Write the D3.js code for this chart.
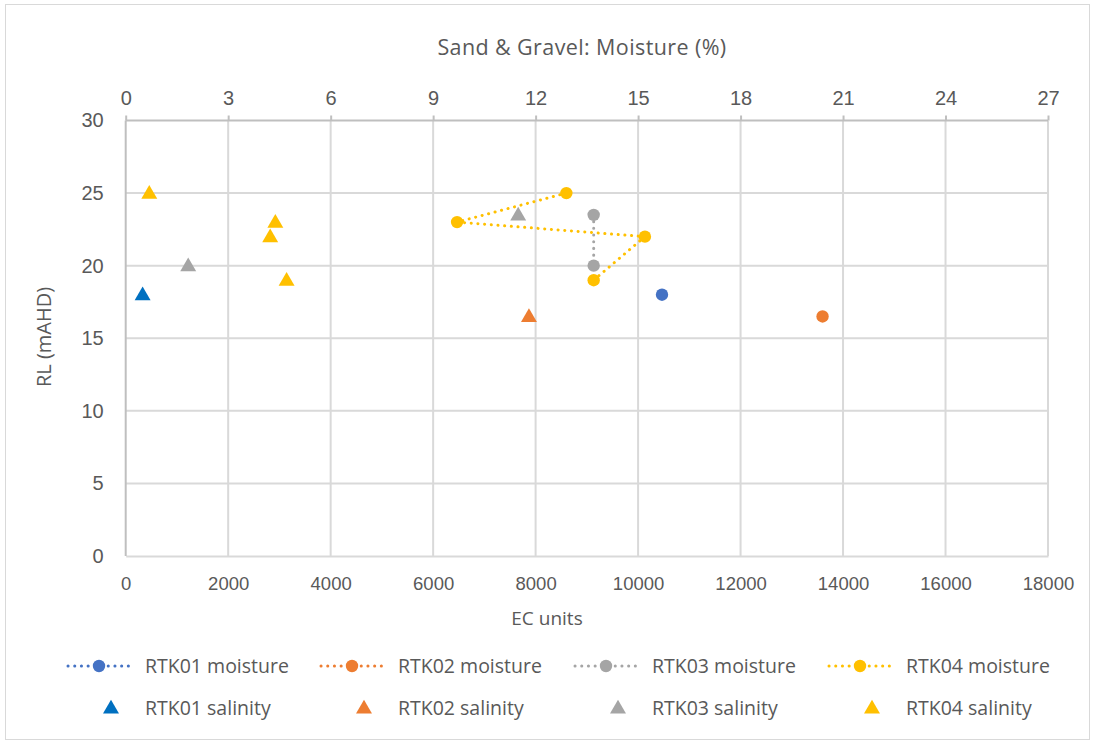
<!DOCTYPE html>
<html>
<head>
<meta charset="utf-8">
<script src="https://cdn.jsdelivr.net/npm/d3@7"></script>
<style>
  html, body { margin: 0; padding: 0; background: #fff; }
  svg { display: block; font-family: "Open Sans", "Liberation Sans", sans-serif; }
</style>
</head>
<body>
<svg id="chart" width="1094" height="744"></svg>
<script>
// Bottom axis: salinity in EC units; top axis: moisture in %; vertical: RL (mAHD)
const ecTicks = [0, 2000, 4000, 6000, 8000, 10000, 12000, 14000, 16000, 18000];
const moistTicks = [0, 3, 6, 9, 12, 15, 18, 21, 24, 27];
const rlTicks = [0, 5, 10, 15, 20, 25, 30];

// Moisture profiles (moisture %, RL)
const rtk01Moisture = [[15.7, 18]];
const rtk02Moisture = [[20.4, 16.5]];
const rtk03Moisture = [[13.7, 23.5], [13.7, 20]];
const rtk04Moisture = [[12.9, 25], [9.7, 23], [15.2, 22], [13.7, 19]];

// Salinity samples (EC units, RL)
const rtk01Salinity = [[330, 18]];
const rtk02Salinity = [[7870, 16.5]];
const rtk03Salinity = [[1220, 20], [7660, 23.5]];
const rtk04Salinity = [[460, 25], [2920, 23], [2820, 22], [3140, 19]];

const seriesNames = ["RTK01", "RTK02", "RTK03", "RTK04"];
const moistColors = ["#4472C4", "#ED7D31", "#A5A5A5", "#FFC000"];
const salColors = ["#0070C0", "#ED7D31", "#A5A5A5", "#FFC000"];

const moistureSeries = [rtk01Moisture, rtk02Moisture, rtk03Moisture, rtk04Moisture];
const salinitySeries = [rtk01Salinity, rtk02Salinity, rtk03Salinity, rtk04Salinity];

const svg = d3.select("#chart");
const textColor = "#595959";
const plot = { left: 125.7, right: 1048, top: 120.5, bottom: 556 };

const xEC = d3.scaleLinear().domain([0, 18000]).range([plot.left, plot.right]);
const xMoist = d3.scaleLinear().domain([0, 27]).range([plot.left, plot.right]);
const y = d3.scaleLinear().domain([0, 30]).range([plot.bottom, plot.top]);

// Chart frame
svg.append("rect")
  .attr("x", 5.5).attr("y", 4.5).attr("width", 1084).attr("height", 735)
  .attr("fill", "#fff").attr("stroke", "#D9D9D9").attr("stroke-width", 1);

// Gridlines
const grid = svg.append("g");
grid.selectAll("line.h").data(rlTicks.filter(d => d > 0 && d < 30)).join("line")
  .attr("x1", plot.left).attr("x2", plot.right)
  .attr("y1", d => y(d)).attr("y2", d => y(d))
  .attr("stroke", "#D9D9D9").attr("stroke-width", 2);
grid.selectAll("line.v").data(ecTicks.filter(d => d > 0)).join("line")
  .attr("x1", d => xEC(d)).attr("x2", d => xEC(d))
  .attr("y1", plot.top).attr("y2", plot.bottom)
  .attr("stroke", "#D9D9D9").attr("stroke-width", 2);

// Bottom axis (EC units)
const bottomAxis = svg.append("g")
  .attr("transform", `translate(0,${plot.bottom})`)
  .call(d3.axisBottom(xEC).tickValues(ecTicks).tickSize(0).tickPadding(21).tickFormat(d3.format("d")));
bottomAxis.select(".domain").attr("stroke", "#D9D9D9").attr("stroke-width", 2);
bottomAxis.selectAll("text").attr("fill", textColor).attr("font-size", 18.5);

// Top axis (moisture %)
const topAxis = svg.append("g")
  .attr("transform", `translate(0,${plot.top})`)
  .call(d3.axisTop(xMoist).tickValues(moistTicks).tickSize(5).tickPadding(11));
topAxis.select(".domain").attr("stroke", "#BFBFBF").attr("stroke-width", 2).attr("d", `M${plot.left},0H${plot.right}`);
topAxis.selectAll(".tick line").attr("stroke", "#BFBFBF").attr("stroke-width", 2);
topAxis.selectAll("text").attr("fill", textColor).attr("font-size", 20);

// Left axis (RL)
const leftAxis = svg.append("g")
  .attr("transform", `translate(${plot.left},0)`)
  .call(d3.axisLeft(y).tickValues(rlTicks).tickSize(0).tickPadding(22));
leftAxis.select(".domain").attr("stroke", "#BFBFBF").attr("stroke-width", 2).attr("d", `M0,${plot.top}V${plot.bottom}`);
leftAxis.selectAll("text").attr("fill", textColor).attr("font-size", 20);

// Axis titles
svg.append("text").attr("x", 582).attr("y", 55).attr("text-anchor", "middle")
  .attr("fill", textColor).attr("font-size", 21.5).attr("letter-spacing", 0.4)
  .text("Sand & Gravel: Moisture (%)");
svg.append("text").attr("x", 547).attr("y", 625).attr("text-anchor", "middle")
  .attr("fill", textColor).attr("font-size", 19).text("EC units");
svg.append("text").attr("text-anchor", "middle")
  .attr("transform", "translate(51,337) rotate(-90)")
  .attr("fill", textColor).attr("font-size", 20).text("RL (mAHD)");

// Moisture profiles: dotted lines with circle markers
const line = d3.line().x(d => xMoist(d[0])).y(d => y(d[1]));
const triangle = d3.symbol().type(d3.symbolTriangle).size(110);

moistureSeries.forEach((data, i) => {
  const g = svg.append("g");
  if (data.length > 1) {
    g.append("path").datum(data).attr("d", line)
      .attr("fill", "none").attr("stroke", moistColors[i]).attr("stroke-width", 3)
      .attr("stroke-dasharray", "0.1 6.6").attr("stroke-linecap", "round");
  }
  g.selectAll("circle").data(data).join("circle")
    .attr("cx", d => xMoist(d[0])).attr("cy", d => y(d[1])).attr("r", 6.2)
    .attr("fill", moistColors[i]);
});

// Salinity samples: triangle markers
salinitySeries.forEach((data, i) => {
  svg.append("g").selectAll("path").data(data).join("path")
    .attr("d", triangle)
    .attr("transform", d => `translate(${xEC(d[0])},${y(d[1]) + 1})`)
    .attr("fill", salColors[i]);
});

// Legend
const legendCols = [68, 321, 575, 829];
const legend = svg.append("g");
seriesNames.forEach((name, i) => {
  const x0 = legendCols[i];
  const r1 = legend.append("g").attr("transform", `translate(${x0},666)`);
  r1.append("line").attr("x1", 0).attr("x2", 64).attr("y1", 0).attr("y2", 0)
    .attr("stroke", moistColors[i]).attr("stroke-width", 3)
    .attr("stroke-dasharray", "0.1 6.6").attr("stroke-linecap", "round");
  r1.append("circle").attr("cx", 31).attr("cy", 0).attr("r", 6.2).attr("fill", moistColors[i]);
  r1.append("text").attr("x", 77).attr("y", 7)
    .attr("fill", textColor).attr("font-size", 19.5).text(`${name} moisture`);

  const r2 = legend.append("g").attr("transform", `translate(${x0},708)`);
  r2.append("path").attr("d", triangle).attr("transform", "translate(43,1)").attr("fill", salColors[i]);
  r2.append("text").attr("x", 77).attr("y", 7)
    .attr("fill", textColor).attr("font-size", 19.5).text(`${name} salinity`);
});
</script>
</body>
</html>
